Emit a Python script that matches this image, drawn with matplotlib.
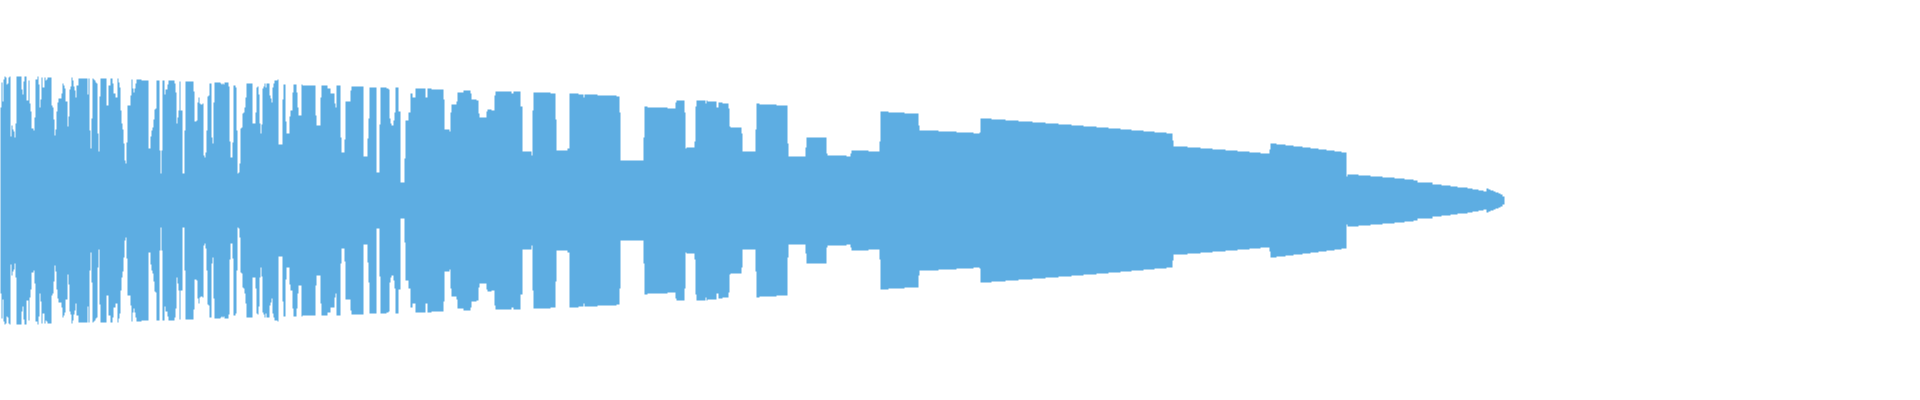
import numpy as np
import matplotlib
matplotlib.use('Agg')
import matplotlib.pyplot as plt

#waveform peak levels, (start column, peak) - the shape is mirrored around 0
intro = [(0,93),(1,118),(2,99),(3,121),(4,124),(5,123),(6,116),(7,117),(8,123),(9,124),
	(10,64),(11,75),(12,71),(13,69),(14,63),(15,77),(16,124),(21,111),(22,106),(23,119),
	(24,124),(26,100),(28,120),(29,97),(30,89),(31,72),(33,70),(34,83),(35,121),(37,124),
	(38,116),(39,93),(40,101),(41,123),(42,113),(44,123),(45,120),(46,121),(47,123),(51,95),
	(52,93),(53,81),(54,65),(55,71),(56,89),(57,98),(58,102),(61,107),(62,117),(63,115),
	(64,112),(65,99),(67,74),(68,84),(69,111),(70,114),(71,123),(72,120),(73,114),(74,110),
	(75,103),(76,115),(78,122),(87,106),(88,122),(89,70),(90,52),(91,82),(92,122),(93,121),
	(94,120),(95,118),(96,117),(97,67),(98,49),(99,104),(100,122),(106,95),(108,115),(110,122),
	(112,117),(113,107),(115,103),(117,122),(118,118),(119,113),(120,90),(121,77),(122,71),(123,57),
	(124,40),(125,37),(126,58),(127,95),(130,105),(131,121),(132,112),(133,108),(134,112),(135,117),
	(136,121),(140,121),(141,120),(148,52),(150,64),(151,70),(152,73),(153,81),(154,91),(155,92),
	(156,120),(159,50),(160,27),(161,50),(162,120),(164,106),(165,111),(167,116),(168,120),(174,117),
	(175,108),(176,77),(177,83),(178,90),(179,119),(180,90),(182,27),(184,70),(185,119),(193,109),
	(194,79),(196,80),(197,98),(198,103),(199,97),(200,96),(202,97),(203,45),(204,43),(205,48),
	(206,70),(207,104),(208,105),(209,117),(211,63),(212,57),(213,98),(214,118),(220,117),(221,116),
	(222,117),(223,116),(224,118),(228,114),(229,59),(230,43),(232,58),(233,115),(235,113),(236,70),
	(237,27),(238,28),(239,37),(240,72),(241,73),(242,87),(243,88),(244,93),(245,103),(246,117),
	(252,77),(255,88),(256,113),(257,114),(258,106),(259,77),(260,67),(261,76),(262,112),(263,114),
	(264,117),(265,113),(266,117),(269,105),(270,102),(271,98),(272,113),(273,117),(274,120),(277,121),
	(278,56)]

build = [(280,56),(282,101),(283,116),(285,79),(286,67),(289,84),(290,90),(292,108),(293,116),(296,108),
	(297,93),(298,85),(301,116),(302,115),(315,85),(316,75),(320,103),(321,115),(327,112),(330,107),
	(334,97),(335,93),(336,115),(340,63),(341,48),(344,61),(345,99),(350,110),(351,114),(363,44),
	(367,62),(368,82),(369,113),(376,28),(379,76),(380,113),(386,112),(388,111),(389,82),(390,77),
	(391,75),(393,80),(394,88),(395,113),(398,89),(400,18),(404,42),(405,80),(408,88),(410,107),
	(412,103),(415,112),(420,112),(425,103),(427,112),(431,111),(443,101),(444,71),(449,69),(450,88),
	(451,96),(456,99),(457,108),(463,110),(470,107),(471,101),(476,100),(478,87),(479,83),(486,89),
	(487,91),(491,90),(494,105),(495,109),(511,107),(513,109),(520,94),(522,49),(531,45),(532,90),
	(533,108),(550,107),(555,81),(556,50),(567,52),(569,107),(578,106),(583,103),(584,106),(597,105),
	(616,104),(619,88),(620,40),(643,63),(644,94),(647,93),(667,92),(675,98),(676,100),(684,88),
	(685,52),(686,53),(694,59),(695,94),(696,100),(705,97),(706,100),(707,99),(716,93),(718,98),
	(722,97),(728,92),(729,74),(730,73),(741,67),(742,49),(755,71),(756,97),(759,96),(776,95),
	(787,57),(788,44),(805,53),(806,63),(826,47),(827,45)]

outro = [(846,44),(850,47),(851,50),(868,49),(879,59),(880,89),(888,88),(904,87),(918,75),(919,70),
	(938,69),(956,68),(973,67),(979,68),(980,82),(991,81),(1005,80),(1018,79),(1032,78),(1045,77),
	(1058,76),(1071,75),(1083,74),(1096,73),(1108,72),(1120,71),(1131,70),(1143,69),(1154,68),(1166,67),
	(1172,60),(1173,54),(1187,53),(1200,52),(1212,51),(1225,50),(1237,49),(1249,48),(1260,47),(1269,51),
	(1270,57),(1276,56),(1285,55),(1293,54),(1302,53),(1310,52),(1318,51),(1326,50),(1334,49),(1341,48),
	(1346,24),(1347,26),(1358,25),(1370,24),(1382,23),(1394,22),(1404,21),(1413,20),(1417,18),(1432,16),
	(1441,15),(1450,14),(1457,13),(1467,12),(1472,11),(1478,10),(1483,9),(1486,12),(1488,11),(1490,10),
	(1493,9),(1495,8),(1498,7),(1500,6),(1502,4)]

track_end = 1504
color = '#5DADE2'

segs = intro + build + outro
x = np.array([s[0] for s in segs] + [track_end])
peak = np.array([s[1] for s in segs] + [segs[-1][1]])

fig = plt.figure(figsize=(19.2, 4), dpi=100)
ax = fig.add_axes([0, 0, 1, 1])
ax.fill_between(x, -peak, peak, step='post', color=color, linewidth=0, antialiased=False)
ax.set_xlim(0, 1920)
ax.set_ylim(-200, 200)
ax.axis('off')

fig.savefig('out.png', dpi=100, facecolor='white')
